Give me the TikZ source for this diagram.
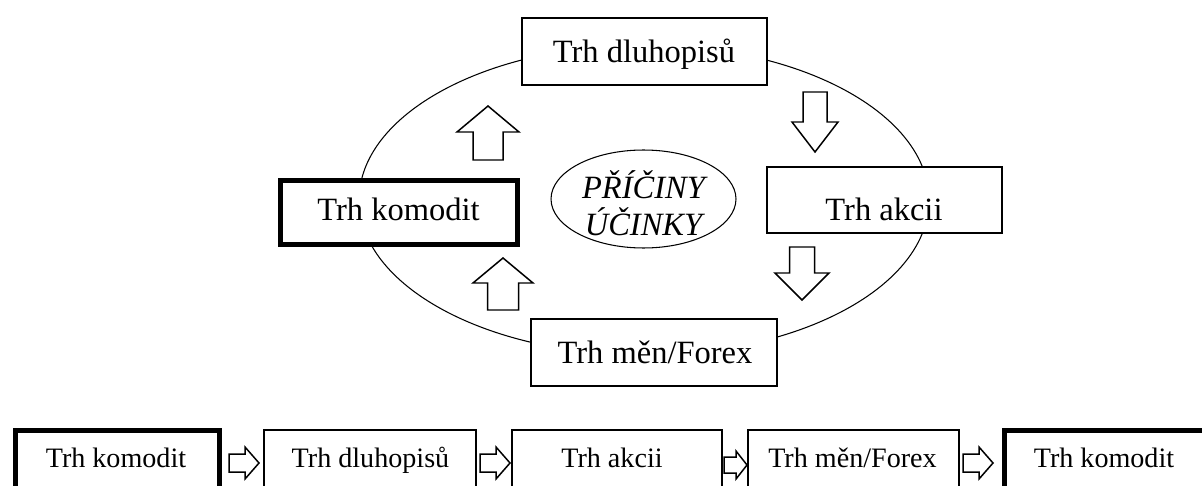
\documentclass[tikz,border=0pt]{standalone}
\usepackage{fontspec}
\setmainfont{Liberation Serif}
\usetikzlibrary{shapes.geometric}
\begin{document}
\begin{tikzpicture}[x=0.02cm,y=-0.02cm,
  box/.style={draw, fill=white, line width=0.85pt, inner sep=0pt},
  thickbox/.style={box, line width=2.8pt},
  bigtxt/.style={font=\fontsize{18.5}{21}\selectfont, anchor=base, inner sep=0pt},
  smalltxt/.style={font=\fontsize{16}{19}\selectfont, anchor=base, inner sep=0pt},
  itxt/.style={font=\fontsize{18.5}{21}\selectfont\itshape, anchor=base, inner sep=0pt},
  barrow/.style={draw, fill=white, line width=0.85pt, line join=miter},
  ring/.style={draw, line width=0.6pt}]
\useasboundingbox (0,0) rectangle (1202,486);
\clip (0,0) rectangle (1202,486);
% big cycle ellipse
\draw[ring] (644,200) ellipse [x radius=5.7cm, y radius=3.1cm];
% cycle boxes
\node[box, minimum width=4.9cm, minimum height=1.34cm] (dl) at (644.5,51.5) {};
\node[bigtxt] (tdl) at (644,63) {Trh dluhopisů};
\node[box, minimum width=4.7cm, minimum height=1.32cm] (ak) at (884.5,200) {};
\node[bigtxt] (tak) at (884,220) {Trh akcii};
\node[thickbox, minimum width=4.74cm, minimum height=1.28cm] (ko) at (399,212.5) {};
\node[bigtxt] (tko) at (398.5,220) {Trh komodit};
\node[box, minimum width=4.92cm, minimum height=1.34cm] (fx) at (654,352.5) {};
\node[bigtxt] (tfx) at (655,363) {Trh měn/Forex};
% centre ellipse
\node[ring, ellipse, minimum width=3.7cm, minimum height=1.96cm, inner sep=0pt] (pu) at (643.5,199) {};
\node[itxt] (pr1) at (643.5,198) {PŘÍČINY};
\node[itxt] (pr2) at (643.5,235) {ÚČINKY};
% block arrows of the cycle
\draw[barrow] (488,106) -- (519,132) -- (503,132) -- (503,160) -- (473,160) -- (473,132) -- (457,132) -- cycle;
\draw[barrow] (803,92) -- (827,92) -- (827,122) -- (838,122) -- (815,152) -- (792,122) -- (803,122) -- cycle;
\draw[barrow] (789.5,247) -- (814.5,247) -- (814.5,273) -- (829,273) -- (802,300) -- (775,273) -- (789.5,273) -- cycle;
\draw[barrow] (503,258) -- (533,283) -- (518.5,283) -- (518.5,310) -- (487.5,310) -- (487.5,283) -- (473,283) -- cycle;
% bottom row
\node[thickbox, minimum width=4.08cm, minimum height=1.39cm] (b1) at (117.5,465) {};
\node[smalltxt] (t1) at (116,467) {Trh komodit};
\node[box, minimum width=4.24cm, minimum height=1.4cm] (b2) at (370,465) {};
\node[smalltxt] (t2) at (370.5,467) {Trh dluhopisů};
\node[box, minimum width=4.2cm, minimum height=1.4cm] (b3) at (617,465) {};
\node[smalltxt] (t3) at (612,467) {Trh akcii};
\node[box, minimum width=4.22cm, minimum height=1.4cm] (b4) at (853.5,465) {};
\node[smalltxt] (t4) at (852.5,467) {Trh měn/Forex};
\node[thickbox, minimum width=4.21cm, minimum height=1.39cm] (b5) at (1110,465) {};
\node[smalltxt] (t5) at (1104,467) {Trh komodit};
% small horizontal block arrows
\draw[barrow] (229,454) -- (245,454) -- (245,447) -- (259,463) -- (245,479) -- (245,472) -- (229,472) -- cycle;
\draw[barrow] (480,454) -- (496,454) -- (496,447) -- (510,463) -- (496,479) -- (496,472) -- (480,472) -- cycle;
\draw[barrow] (724,457) -- (736,457) -- (736,451) -- (747,465) -- (736,479) -- (736,473) -- (724,473) -- cycle;
\draw[barrow] (963,454) -- (979,454) -- (979,447) -- (993,463) -- (979,479) -- (979,472) -- (963,472) -- cycle;
\end{tikzpicture}
\end{document}
